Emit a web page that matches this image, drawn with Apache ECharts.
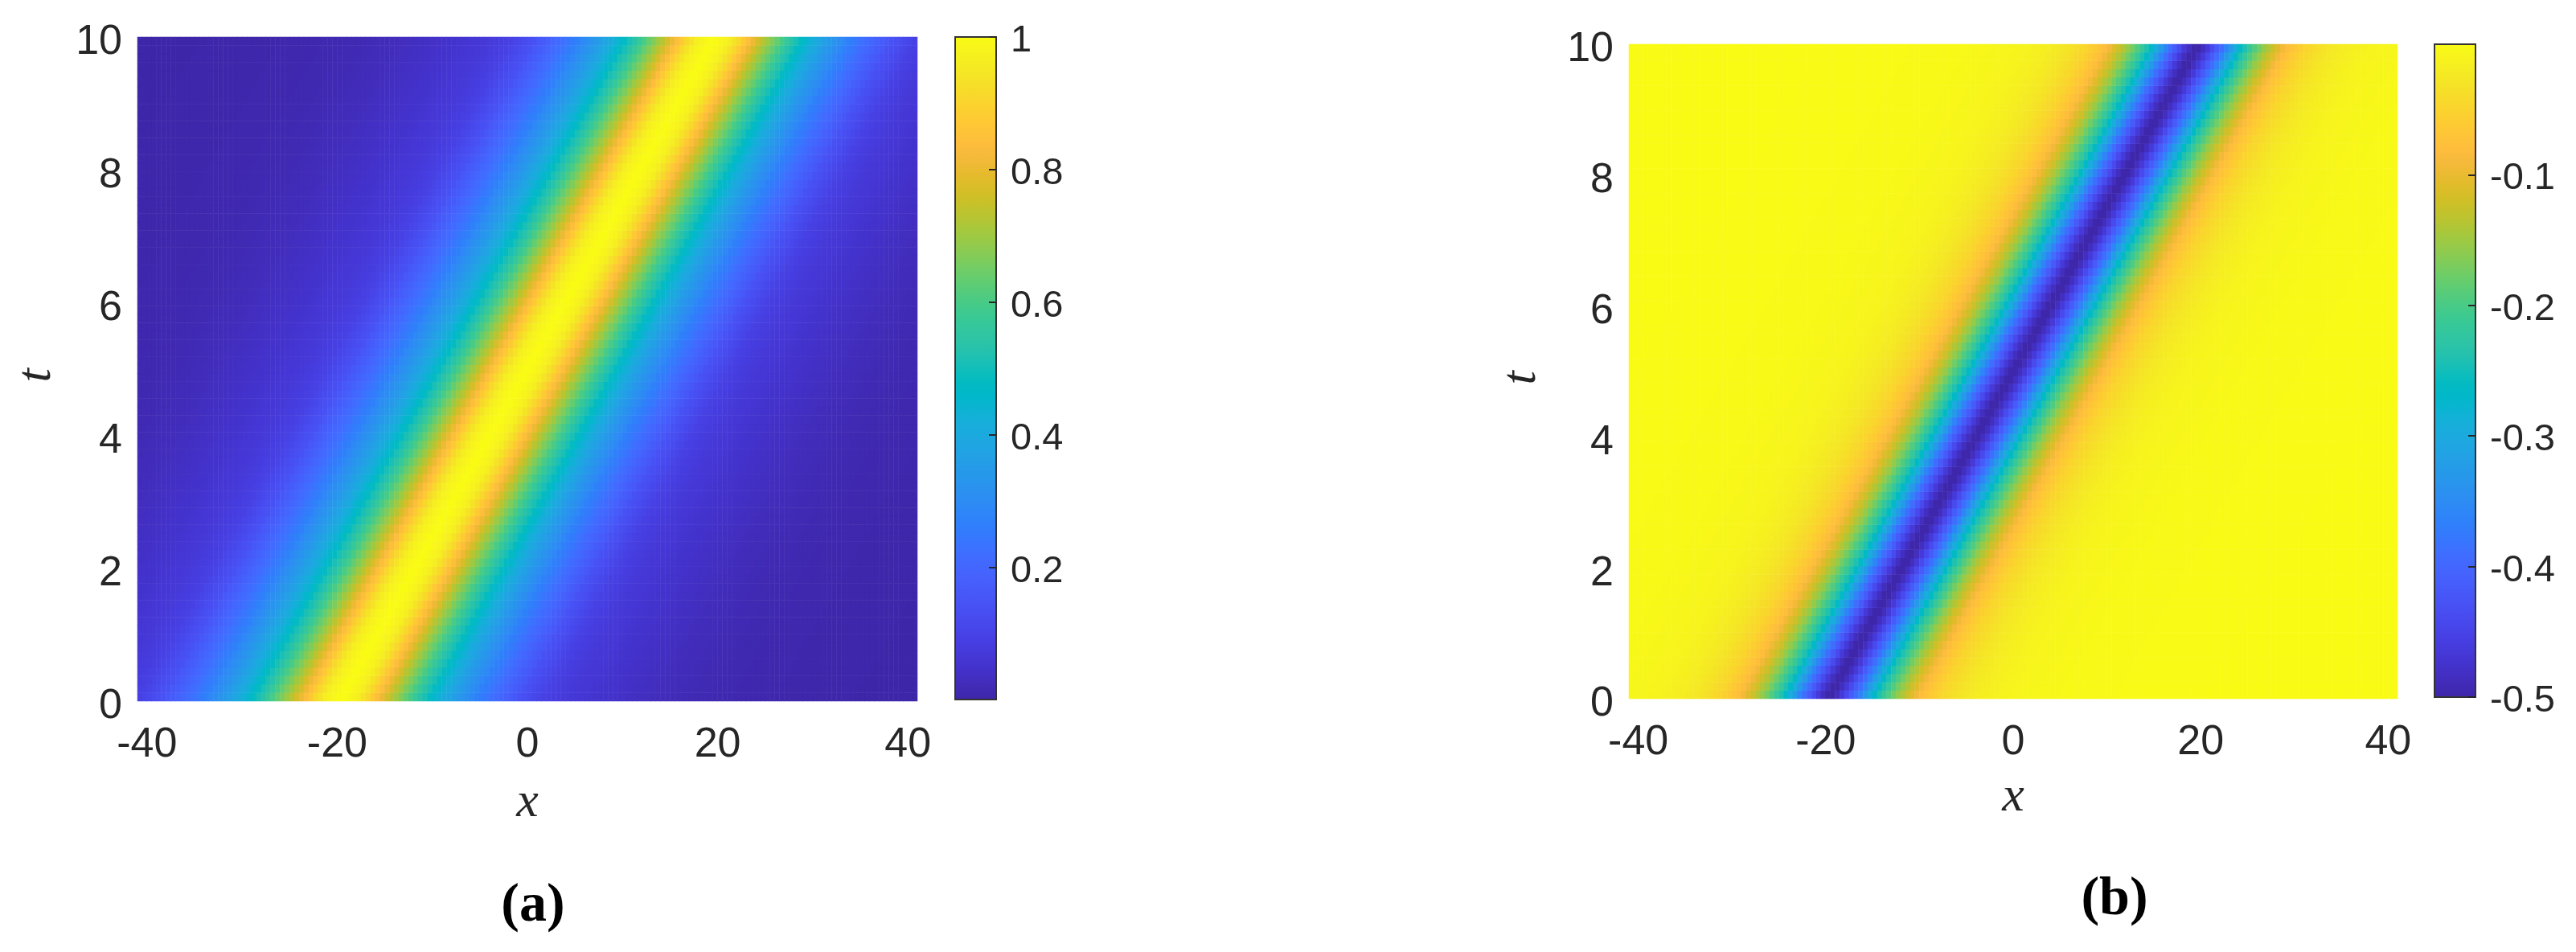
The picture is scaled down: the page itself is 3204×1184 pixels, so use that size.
<!DOCTYPE html>
<html>
<head>
<meta charset="utf-8">
<title>Soliton heatmaps</title>
<style>
  html, body { margin: 0; padding: 0; background: #fff; }
  #chart { width: 3204px; height: 1184px; }
</style>
</head>
<body>
<div id="chart"></div>
<script src="https://cdn.jsdelivr.net/npm/echarts@6/dist/echarts.min.js"></script>
<script>
// tick labels
const xTicks = [-40, -20, 0, 20, 40]
const tTicks = [0, 2, 4, 6, 8, 10]
const barTicksA = [0.2, 0.4, 0.6, 0.8, 1]
const barTicksB = [-0.5, -0.4, -0.3, -0.2, -0.1]

// The band is straight, so a value read across it holds along the whole diagonal.
const profileA = [
  .001,
  .001,.001,.001,.001,.002,.002,.002,.002,.002,.002,
  .002,.002,.003,.003,.003,.003,.003,.004,.004,.004,
  .004,.004,.005,.005,.005,.005,.006,.006,.006,.007,
  .007,.007,.008,.008,.009,.009,.01,.01,.011,.012,
  .012,.013,.014,.015,.016,.017,.018,.019,.02,.022,
  .023,.024,.026,.027,.029,.031,.033,.035,.037,.039,
  .041,.043,.046,.048,.05,.052,.055,.058,.061,.064,
  .066,.068,.07,.075,.08,.085,.09,.095,.105,.115,
  .125,.135,.145,.16,.17,.185,.20,.21,.225,.24,
  .255,.27,.29,.31,.325,.34,.365,.385,.405,.43,
  .455,.48,.51,.535,.57,.60,.635,.665,.70,.73,
  .77,.805,.84,.875,.91,.94,.965,.98,.99,1.00,
  1.00,.99,.98,.965,.94,.91,.875,.84,.805,.77,
  .73,.70,.665,.635,.60,.57,.535,.51,.48,.455,
  .43,.405,.385,.365,.34,.325,.31,.29,.27,.255,
  .24,.225,.21,.20,.185,.17,.16,.145,.135,.125,
  .115,.105,.095,.09,.085,.08,.075,.07,.068,.066,
  .064,.061,.058,.055,.052,.05,.048,.046,.043,.041,
  .039,.037,.035,.033,.031,.029,.027,.026,.024,.023,
  .022,.02,.019,.018,.017,.016,.015,.014,.013,.012,
  .012,.011,.01,.01,.009,.009,.008,.008,.007,.007,
  .007,.006,.006,.006,.005,.005,.005,.005,.004,.004,
  .004,.004,.004,.003,.003,.003,.003,.003,.002,.002,
  .002,.002,.002,.002,.002,.002,.001,.001,.001,.001,
  .001
]
const profileB = [
  0,
  0,0,0,0,0,0,0,0,0,0,
  0,0,0,0,0,0,0,0,0,0,
  0,0,0,0,0,0,0,0,0,0,
  0,0,0,0,0,0,0,0,0,0,
  -.001,-.001,-.001,-.001,-.001,-.001,-.001,-.001,-.001,-.001,
  -.001,-.001,-.001,-.001,-.001,-.001,-.001,-.001,-.001,-.002,
  -.002,-.002,-.002,-.002,-.002,-.002,-.002,-.003,-.003,-.003,
  -.003,-.004,-.004,-.004,-.005,-.005,-.006,-.006,-.007,-.008,
  -.008,-.009,-.01,-.011,-.012,-.014,-.015,-.017,-.019,-.021,
  -.024,-.027,-.03,-.034,-.038,-.043,-.048,-.055,-.062,-.07,
  -.08,-.093,-.108,-.122,-.14,-.155,-.175,-.195,-.215,-.24,
  -.265,-.295,-.325,-.36,-.39,-.415,-.44,-.465,-.485,-.499,
  -.499,-.485,-.465,-.44,-.415,-.39,-.36,-.325,-.295,-.265,
  -.24,-.215,-.195,-.175,-.155,-.14,-.122,-.108,-.093,-.08,
  -.07,-.062,-.055,-.048,-.043,-.038,-.034,-.03,-.027,-.024,
  -.021,-.019,-.017,-.015,-.014,-.012,-.011,-.01,-.009,-.008,
  -.008,-.007,-.006,-.006,-.005,-.005,-.004,-.004,-.004,-.003,
  -.003,-.003,-.003,-.002,-.002,-.002,-.002,-.002,-.002,-.002,
  -.002,-.001,-.001,-.001,-.001,-.001,-.001,-.001,-.001,-.001,
  -.001,-.001,-.001,-.001,-.001,-.001,-.001,-.001,-.001,-.001,
  0,0,0,0,0,0,0,0,0,0,
  0,0,0,0,0,0,0,0,0,0,
  0,0,0,0,0,0,0,0,0,0,
  0,0,0,0,0,0,0,0,0,0,
  0
]

// parula
const parula = [
  [.2422,.1504,.6603],[.2504,.1650,.7076],[.2578,.1818,.7511],[.2647,.1978,.7952],
  [.2706,.2147,.8364],[.2751,.2342,.8710],[.2783,.2559,.8991],[.2803,.2782,.9221],
  [.2813,.3006,.9414],[.2810,.3228,.9579],[.2795,.3447,.9717],[.2760,.3667,.9829],
  [.2699,.3892,.9906],[.2602,.4123,.9952],[.2440,.4358,.9988],[.2206,.4603,.9973],
  [.1963,.4847,.9892],[.1834,.5074,.9798],[.1786,.5289,.9682],[.1764,.5499,.9520],
  [.1687,.5703,.9359],[.1540,.5902,.9218],[.1460,.6091,.9079],[.1380,.6276,.8973],
  [.1248,.6459,.8883],[.1113,.6635,.8763],[.0952,.6798,.8598],[.0689,.6948,.8394],
  [.0297,.7082,.8163],[.0036,.7203,.7917],[.0067,.7312,.7660],[.0433,.7411,.7394],
  [.0964,.7500,.7120],[.1408,.7584,.6842],[.1717,.7670,.6554],[.1938,.7758,.6251],
  [.2161,.7843,.5923],[.2470,.7918,.5567],[.2906,.7973,.5188],[.3406,.8008,.4789],
  [.3909,.8029,.4354],[.4456,.8024,.3909],[.5044,.7993,.3480],[.5616,.7942,.3045],
  [.6174,.7876,.2612],[.6720,.7793,.2227],[.7242,.7698,.1910],[.7738,.7598,.1646],
  [.8203,.7498,.1535],[.8634,.7406,.1596],[.9035,.7330,.1774],[.9393,.7288,.2100],
  [.9728,.7298,.2394],[.9956,.7434,.2371],[.9970,.7659,.2199],[.9952,.7893,.2028],
  [.9892,.8136,.1885],[.9786,.8386,.1766],[.9676,.8639,.1643],[.9610,.8890,.1537],
  [.9597,.9135,.1423],[.9628,.9373,.1265],[.9691,.9606,.1064],[.9769,.9839,.0805]
]
const colors = parula.map(c => `rgb(${c.map(v => Math.round(v * 255)).join(',')})`)

const cols = 164
const rows = 79
const xCells = Array.from({ length: cols }, (_, j) => j)
const tCells = Array.from({ length: rows }, (_, i) => i)

// every grid cell picks its diagonal out of the profile
const buildCells = (profile) => {
  const cells = []
  tCells.forEach(i => {
    xCells.forEach(j => {
      cells.push([j, i, profile[j - i + rows - 1]])
    })
  })
  return cells
}

const textColor = '#262626'
const sans = '"Liberation Sans", Arial, sans-serif'
const serif = '"Liberation Serif", serif'

// one panel: heatmap axes are hidden, the value axes carry the labels
const plotAxes = (gridIndex, xGap, tGap) => ({
  x: [
    { type: 'category', gridIndex, data: xCells, show: false },
    {
      type: 'value', gridIndex, min: -41, max: 41, position: 'bottom',
      axisLine: { show: false, onZero: false }, axisTick: { show: false }, splitLine: { show: false },
      axisLabel: { customValues: xTicks, color: textColor, fontFamily: sans, fontSize: 52, margin: 29 },
      name: 'x', nameLocation: 'middle', nameGap: xGap,
      nameTextStyle: { fontFamily: serif, fontStyle: 'italic', fontSize: 62, color: textColor }
    }
  ],
  y: [
    { type: 'category', gridIndex, data: tCells, show: false },
    {
      type: 'value', gridIndex, min: 0, max: 10, position: 'left',
      axisLine: { show: false, onZero: false }, axisTick: { show: false }, splitLine: { show: false },
      axisLabel: {
        customValues: tTicks, margin: 19, formatter: '{v|{value}}',
        // pushes the digits a little below the tick, as in the picture
        rich: { v: { color: textColor, fontFamily: sans, fontSize: 52, padding: [14, 0, 0, 0] } }
      },
      name: 't', nameLocation: 'middle', nameGap: tGap,
      nameTextStyle: { fontFamily: serif, fontStyle: 'italic', fontSize: 62, color: textColor, padding: [0, 16, 0, 0] }
    }
  ]
})

const barAxes = (gridIndex, min, max, ticks) => ({
  x: [{ type: 'value', gridIndex, min: 0, max: 1, show: false }],
  y: [{
    type: 'value', gridIndex, min, max, position: 'right', z: 6,
    axisLine: { show: false, onZero: false },
    axisTick: { show: true, inside: true, length: 9, customValues: ticks, lineStyle: { color: textColor, width: 2 } },
    splitLine: { show: false },
    axisLabel: {
      customValues: ticks, margin: 18, formatter: '{v|{value}}',
      rich: { v: { color: textColor, fontFamily: sans, fontSize: 47, padding: [10, 0, 0, 0] } }
    }
  }]
})

const panelA = plotAxes(0, 96, 94)
const panelB = plotAxes(1, 92, 102)
const barA = barAxes(2, 0.001, 1, barTicksA)
const barB = barAxes(3, -0.5, 0, barTicksB)

const heatSeries = (xAxisIndex, yAxisIndex, profile) => ({
  type: 'heatmap',
  xAxisIndex,
  yAxisIndex,
  data: buildCells(profile),
  progressive: 0,
  silent: true,
  itemStyle: { borderWidth: 0 }
})

const barMap = (seriesIndex, min, max, left, top, height) => ({
  type: 'continuous',
  seriesIndex,
  min,
  max,
  left,
  top,
  padding: 0,
  itemWidth: 51,
  itemHeight: height,
  calculable: false,
  hoverLink: false,
  text: null,
  showLabel: false,
  inRange: { color: colors }
})

const panelTitle = (letter, left, top) => ({
  text: `{n|(}{b|${letter}}{n|)}`,
  left,
  top,
  textAlign: 'center',
  textStyle: {
    rich: {
      n: { fontFamily: serif, fontSize: 68, color: '#000' },
      b: { fontFamily: serif, fontSize: 68, fontWeight: 'bold', color: '#000' }
    }
  }
})

const chart = echarts.init(document.getElementById('chart'))

chart.setOption({
  animation: false,
  backgroundColor: '#fff',
  title: [panelTitle('a', 658, 1088), panelTitle('b', 2625, 1080)],
  grid: [
    { left: 171, top: 46, width: 970, height: 826 },
    { left: 2026, top: 55, width: 956, height: 814 },
    { left: 1188, top: 46, width: 51, height: 824, z: 5, show: true, backgroundColor: 'transparent', borderColor: '#333', borderWidth: 2 },
    { left: 3028, top: 55, width: 51, height: 812, z: 5, show: true, backgroundColor: 'transparent', borderColor: '#333', borderWidth: 2 }
  ],
  xAxis: [...panelA.x, ...panelB.x, ...barA.x, ...barB.x],
  yAxis: [...panelA.y, ...panelB.y, ...barA.y, ...barB.y],
  visualMap: [
    barMap(0, 0.001, 1, 1188, 46, 824),
    barMap(1, -0.5, 0, 3028, 55, 812)
  ],
  series: [
    heatSeries(0, 0, profileA),
    heatSeries(2, 2, profileB)
  ]
})

window.addEventListener('resize', () => chart.resize())
</script>
</body>
</html>
